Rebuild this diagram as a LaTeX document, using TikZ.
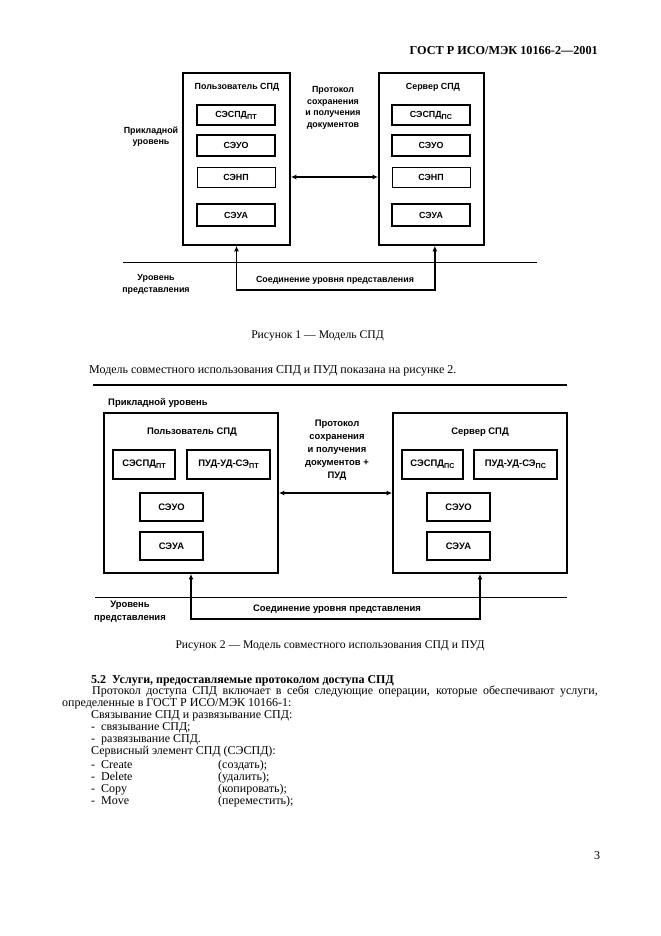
\documentclass[tikz,border=0pt]{standalone}
\usepackage{fontspec}
\setmainfont{Liberation Serif}
\newfontfamily\figfont{Liberation Sans}
\usetikzlibrary{arrows.meta}

\newcommand{\lowtag}[1]{\raisebox{-0.45ex}{\fontsize{6.5}{7}\selectfont #1}}

\tikzset{
  figtext/.style={font=\figfont\bfseries\fontsize{8}{10.4}\selectfont, inner sep=0pt},
  figtextb/.style={font=\figfont\bfseries\fontsize{8.5}{11.6}\selectfont, inner sep=0pt},
  bodytext/.style={font=\fontsize{10.8}{13}\selectfont, inner sep=0pt, anchor=base west},
  captext/.style={font=\fontsize{10.5}{12}\selectfont, inner sep=0pt, anchor=base},
  outerbox/.style={draw, line width=1.5pt, inner sep=0pt},
  unitbox/.style={draw, line width=1.4pt, inner sep=0pt, figtext},
  unitboxb/.style={draw, line width=1.4pt, inner sep=0pt, figtextb},
  link/.style={line width=1.3pt, {Latex[length=5pt,width=4.5pt]}-{Latex[length=5pt,width=4.5pt]}},
  levelline/.style={line width=0.9pt},
}

\begin{document}
\begin{tikzpicture}[x=0.9pt,y=-0.9pt]
  \fill[white] (0,0) rectangle (661,936);
  \useasboundingbox (0,0) rectangle (661,936);

  % Header
  \node[font=\bfseries\fontsize{11}{13}\selectfont, inner sep=0pt, anchor=base east] (gost) at (598,54) {ГОСТ Р ИСО/МЭК 10166-2—2001};

  %% Figure 1
  % boxes
  \node[outerbox, minimum width=107*0.9pt, minimum height=172*0.9pt] (user1) at (236.5,159) {};
  \node[outerbox, minimum width=105*0.9pt, minimum height=172*0.9pt] (server1) at (431.5,159) {};
  \node[figtext] (user1t) at (237,87) {Пользователь СПД};
  \node[figtext] (server1t) at (433,87) {Сервер СПД};
  % user elements
  \node[unitbox, minimum width=78*0.9pt, minimum height=20*0.9pt] (spdu1) at (236,115) {СЭСПД\lowtag{ПТ}};
  \node[unitbox, minimum width=78*0.9pt, minimum height=21*0.9pt] (suou1) at (236,145.5) {СЭУО};
  \node[unitbox, line width=0.7pt, minimum width=78*0.9pt, minimum height=20*0.9pt] (snpu1) at (236,177) {СЭНП};
  \node[unitbox, minimum width=78*0.9pt, minimum height=22*0.9pt] (suau1) at (236,215) {СЭУА};
  % server elements
  \node[unitbox, minimum width=78*0.9pt, minimum height=20*0.9pt] (spds1) at (431,115) {СЭСПД\lowtag{ПС}};
  \node[unitbox, minimum width=78*0.9pt, minimum height=21*0.9pt] (suos1) at (431,145.5) {СЭУО};
  \node[unitbox, line width=0.7pt, minimum width=78*0.9pt, minimum height=20*0.9pt] (snps1) at (431,177) {СЭНП};
  \node[unitbox, minimum width=78*0.9pt, minimum height=22*0.9pt] (suas1) at (431,215) {СЭУА};
  % labels
  \node[figtext, align=center] (proto1) at (333,108) {Протокол\\сохранения\\и получения\\документов};
  \node[figtext, align=center] (applev1) at (151,136.5) {Прикладной\\уровень};
  \node[figtext, align=center] (preslev1) at (156,284.5) {Уровень\\представления};
  \node[figtext] (conn1t) at (335,280) {Соединение уровня представления};
  % lines
  \coordinate (lev1a) at (123,262);
  \coordinate (lev1b) at (537,262);
  \draw[levelline] (lev1a) -- (lev1b);
  \draw[link] (user1.east |- snpu1) -- (server1.west |- snps1);
  \coordinate (bus1) at (335,290);
  \draw[link] (user1.south) |- (bus1) -| ([xshift=3pt]server1.south);

  % Caption 1 and text
  \node[captext] (cap1) at (317.5,338) {Рисунок 1 — Модель СПД};
  \node[bodytext] (par1) at (89,373.5) {Модель совместного использования СПД и ПУД показана на рисунке 2.};

  %% Figure 2
  \coordinate (top2a) at (93,385);
  \coordinate (top2b) at (567,385);
  \draw[line width=2.6pt] (top2a) -- (top2b);
  \node[figtextb, anchor=west] (applev2) at (108,403) {Прикладной уровень};
  % boxes
  \node[outerbox, minimum width=174*0.9pt, minimum height=160*0.9pt] (user2) at (191,493) {};
  \node[outerbox, minimum width=174*0.9pt, minimum height=160*0.9pt] (server2) at (480,493) {};
  \node[figtextb] (user2t) at (192,432) {Пользователь СПД};
  \node[figtextb] (server2t) at (480,432) {Сервер СПД};
  % user elements
  \node[unitboxb, minimum width=62*0.9pt, minimum height=29*0.9pt] (spdu2) at (144,464.5) {СЭСПД\lowtag{ПТ}};
  \node[unitboxb, minimum width=83*0.9pt, minimum height=29*0.9pt] (pudu2) at (228.5,464.5) {ПУД-УД-СЭ\lowtag{ПТ}};
  \node[unitboxb, minimum width=63*0.9pt, minimum height=28*0.9pt] (suou2) at (171.5,507) {СЭУО};
  \node[unitboxb, minimum width=63*0.9pt, minimum height=28*0.9pt] (suau2) at (171.5,546) {СЭУА};
  % server elements
  \node[unitboxb, minimum width=61*0.9pt, minimum height=29*0.9pt] (spds2) at (432.5,464.5) {СЭСПД\lowtag{ПС}};
  \node[unitboxb, minimum width=83*0.9pt, minimum height=29*0.9pt] (puds2) at (515.5,464.5) {ПУД-УД-СЭ\lowtag{ПС}};
  \node[unitboxb, minimum width=63*0.9pt, minimum height=28*0.9pt] (suos2) at (458.5,507) {СЭУО};
  \node[unitboxb, minimum width=63*0.9pt, minimum height=28*0.9pt] (suas2) at (458.5,546) {СЭУА};
  % labels
  \node[figtextb, align=center] (proto2) at (337,450) {Протокол\\сохранения\\и получения\\документов +\\ПУД};
  \node[figtextb, align=center] (preslev2) at (130,612) {Уровень\\представления};
  \node[figtextb] (conn2t) at (337,609) {Соединение уровня представления};
  % lines
  \coordinate (lev2a) at (95,597);
  \coordinate (lev2b) at (567,597);
  \draw[levelline] (lev2a) -- (lev2b);
  \draw[link] (user2) -- (server2);
  \coordinate (bus2) at (337,619);
  \draw[link] (user2.south) |- (bus2) -| (server2.south);

  % Caption 2
  \node[captext] (cap2) at (330,648) {Рисунок 2 — Модель совместного использования СПД и ПУД};

  %% Section 5.2
  \node[bodytext, font=\bfseries\fontsize{10.8}{13}\selectfont] (sec52) at (91,683) {5.2\ \ Услуги, предоставляемые протоколом доступа СПД};
  \node[bodytext] (par2a) at (92,694.5) {\makebox[455pt][s]{Протокол доступа СПД включает в себя следующие операции, которые обеспечивают услуги,}};
  \node[bodytext] (par2b) at (62,706) {определенные в ГОСТ Р ИСО/МЭК 10166-1:};
  \node[bodytext] (bind) at (91,718) {Связывание СПД и развязывание СПД:};
  \node[bodytext] (bind1) at (91,730) {-\ \ связывание СПД;};
  \node[bodytext] (bind2) at (91,742) {-\ \ развязывание СПД.};
  \node[bodytext] (sespd) at (91,754) {Сервисный элемент СПД (СЭСПД):};
  \node[bodytext] (op1) at (91,768) {-\ \ Create};
  \node[bodytext] (op1r) at (218,768) {(создать);};
  \node[bodytext] (op2) at (91,780) {-\ \ Delete};
  \node[bodytext] (op2r) at (218,780) {(удалить);};
  \node[bodytext] (op3) at (91,792) {-\ \ Copy};
  \node[bodytext] (op3r) at (218,792) {(копировать);};
  \node[bodytext] (op4) at (91,804) {-\ \ Move};
  \node[bodytext] (op4r) at (218,804) {(переместить);};

  % Page number
  \node[bodytext] (pageno) at (594,859) {3};
\end{tikzpicture}
\end{document}
